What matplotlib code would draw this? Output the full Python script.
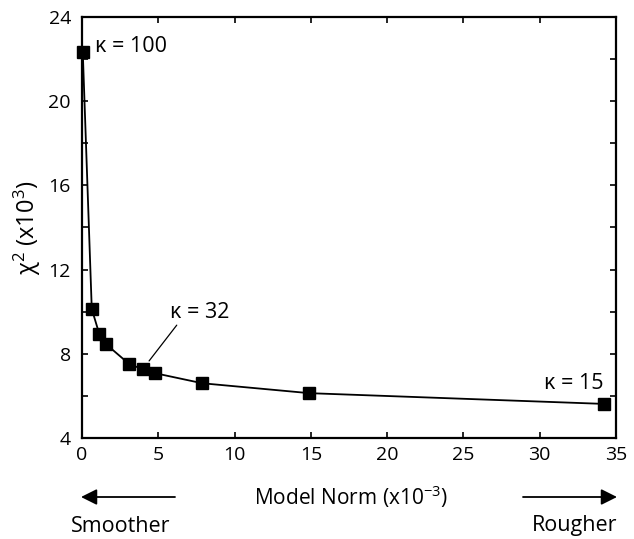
import matplotlib
matplotlib.use('Agg')
import matplotlib.pyplot as plt
from matplotlib.ticker import MultipleLocator

plt.rcParams['font.family'] = ['Open Sans', 'DejaVu Sans']
plt.rcParams['mathtext.fontset'] = 'custom'
plt.rcParams['mathtext.rm'] = 'Open Sans'
plt.rcParams['mathtext.it'] = 'Open Sans:italic'

# model norm (x10^-3) and chi^2 (x10^3) along the L-curve
model_norm = [0.05, 0.64, 1.13, 1.57, 3.1, 3.98, 4.78, 7.89, 14.9, 34.2]
chi2 = [22.35, 10.13, 8.95, 8.46, 7.51, 7.27, 7.08, 6.6, 6.13, 5.62]

x_ticks = [0, 5, 10, 15, 20, 25, 30, 35]
y_ticks = [4, 8, 12, 16, 20, 24]

# labelled kappa values: (index of point, label)
kappa_labels = [(0, r'κ = 100'), (5, r'κ = 32'), (9, r'κ = 15')]

fig = plt.figure(figsize=(6.34, 5.39), dpi=100)
ax = fig.add_axes([82 / 634, 1 - 438 / 539, 534 / 634, 421 / 539])

ax.plot(model_norm, chi2, color='black', lw=1.3, marker='s', ms=8.5,
        mfc='black', mec='black', clip_on=False, zorder=3)

ax.set_xlim(0, 35)
ax.set_ylim(4, 24)
ax.set_xticks(x_ticks)
ax.set_yticks(y_ticks)
ax.yaxis.set_minor_locator(MultipleLocator(2))
ax.tick_params(which='both', direction='in', top=True, right=True,
               width=1.2, labelsize=14)
ax.tick_params(which='major', length=4)
ax.tick_params(which='minor', length=4)
ax.tick_params(axis='x', pad=6)
ax.tick_params(axis='y', pad=8)
for sp in ax.spines.values():
    sp.set_linewidth(1.6)

ax.set_ylabel(r'χ$^{2}$ (x10$^{3}$)', fontsize=17, labelpad=4)

# kappa annotations
i, lab = kappa_labels[0]
ax.annotate(lab, xy=(model_norm[i], chi2[i]), xytext=(9, 3.5),
            textcoords='offset points', ha='left', va='center', fontsize=15.5)
i, lab = kappa_labels[1]
ax.annotate(lab, xy=(model_norm[i], chi2[i]), xytext=(41, 41),
            textcoords='offset points', ha='center', va='center', fontsize=15.5)
ax.annotate('', xy=(model_norm[i], chi2[i]), xytext=(24.5, 31.7),
            textcoords='offset points',
            arrowprops=dict(arrowstyle='-', lw=0.9, color='black',
                            shrinkA=0, shrinkB=7.5))
i, lab = kappa_labels[2]
ax.annotate(lab, xy=(model_norm[i], chi2[i]), xytext=(0, 14.5),
            textcoords='offset points', ha='right', va='center', fontsize=15.5)

# x label and direction arrows below the axes
H = 539.0
fig.text(351 / 634, 1 - 497 / H, r'Model Norm (x10$^{-3}$)', ha='center',
         va='center', fontsize=15)
fig.text(121 / 634, 1 - 527 / H, 'Smoother', ha='center', va='center', fontsize=15.5)
fig.text(575 / 634, 1 - 526 / H, 'Rougher', ha='center', va='center', fontsize=15.5)
arrow_kw = dict(arrowstyle='-|>', lw=1.3, color='black', mutation_scale=24,
                shrinkA=0, shrinkB=0)
fig.add_artist(matplotlib.patches.FancyArrowPatch(
    (175 / 634, 1 - 497 / H), (81 / 634, 1 - 497 / H),
    transform=fig.transFigure, **arrow_kw))
fig.add_artist(matplotlib.patches.FancyArrowPatch(
    (523 / 634, 1 - 497 / H), (617 / 634, 1 - 497 / H),
    transform=fig.transFigure, **arrow_kw))

fig.savefig('out.png', dpi=100)
